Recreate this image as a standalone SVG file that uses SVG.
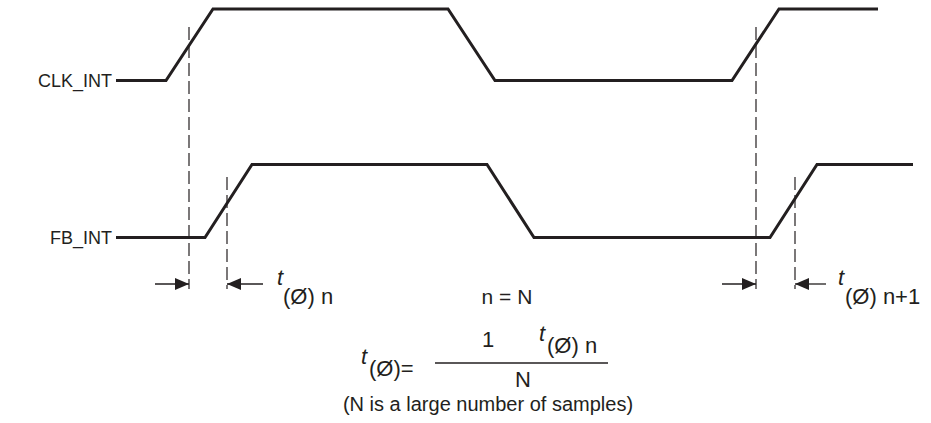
<svg xmlns="http://www.w3.org/2000/svg" width="931" height="423" viewBox="0 0 931 423">
<style>
.wave{fill:none;stroke:#231f20;stroke-width:3;stroke-linejoin:miter}
.dash{fill:none;stroke:#231f20;stroke-width:1.2;stroke-dasharray:13 5}
.arr{fill:none;stroke:#231f20;stroke-width:1.3}
text{font-family:"Liberation Sans",Arial,sans-serif;font-size:19px;fill:#231f20}
.sig{font-size:18px}
.it{font-style:italic;font-size:22px}
.ph{font-size:22px}
</style>
<defs>
<marker id="ah" viewBox="0 0 14 12" refX="14" refY="6" markerWidth="14" markerHeight="12" markerUnits="userSpaceOnUse" orient="auto">
<path d="M0,0 L14,6 L0,12 Z" fill="#231f20"/>
</marker>
</defs>
<rect width="931" height="423" fill="#fff"/>
<g id="clk_int">
<text class="sig" x="112" y="87" text-anchor="end">CLK_INT</text>
<path class="wave" d="M116,80.5 H166 L213,9 H448 L495,80.5 H732 L779,9 H878"/>
</g>
<g id="fb_int">
<text class="sig" x="112" y="244" text-anchor="end">FB_INT</text>
<path class="wave" d="M116,237.5 H205 L252,164.5 H487 L534,237.5 H770 L817,164.5 H913"/>
</g>
<g id="connectors">
<line class="dash" x1="189" y1="27" x2="189" y2="289"/>
<line class="dash" x1="227" y1="177" x2="227" y2="289"/>
<line class="dash" x1="756" y1="27" x2="756" y2="289"/>
<line class="dash" x1="795" y1="177" x2="795" y2="289"/>
<line class="arr" x1="155" y1="284" x2="189" y2="284" marker-end="url(#ah)"/>
<line class="arr" x1="263" y1="284" x2="227" y2="284" marker-end="url(#ah)"/>
<line class="arr" x1="722" y1="284" x2="756" y2="284" marker-end="url(#ah)"/>
<line class="arr" x1="826" y1="284" x2="795" y2="284" marker-end="url(#ah)"/>
</g>
<g id="label_n">
<text class="it" x="277" y="285">t</text>
<text class="ph" x="283" y="304">(Ø) n</text>
</g>
<g id="label_n1">
<text class="it" x="838" y="285">t</text>
<text class="ph" x="845" y="304">(Ø) n+1</text>
</g>
<g id="formula">
<text class="ph" x="507" y="304" text-anchor="middle" style="font-size:21px">n = N</text>
<text class="it" x="361" y="364">t</text>
<text class="ph" x="369" y="376">(Ø)=</text>
<text class="ph" x="482" y="347">1</text>
<text class="it" x="539" y="341">t</text>
<text class="ph" x="547" y="353">(Ø) n</text>
<line x1="435" y1="363" x2="608" y2="363" stroke="#231f20" stroke-width="1.5"/>
<text class="ph" x="515" y="387">N</text>
<text x="488" y="411" text-anchor="middle" style="font-size:20px">(N is a large number of samples)</text>
</g>
</svg>
